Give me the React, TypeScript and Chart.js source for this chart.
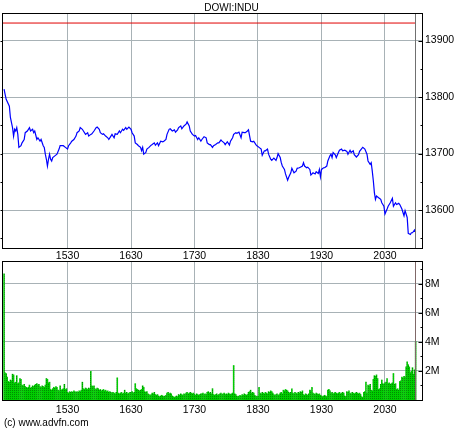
import React, { useEffect, useRef } from 'react';
import { Chart, registerables } from 'chart.js';

Chart.register(...registerables);

const TITLE = 'DOWI:INDU';
const COPYRIGHT = '(c) www.advfn.com';

// minutes after 14:30
const xTickMinutes = [60, 120, 180, 240, 300, 360];
const xTickLabels = ['1530', '1630', '1730', '1830', '1930', '2030'];

const priceTicks = [13600, 13700, 13800, 13900];
const priceTickLabels = ['13600', '13700', '13800', '13900'];
const priceMinorTicks = [13550, 13600, 13650, 13700, 13750, 13800, 13850, 13900];

const volumeTicks = [2, 4, 6, 8];
const volumeTickLabels = ['2M', '4M', '6M', '8M'];
const volumeMinorTicks = [1, 2, 3, 4, 5, 6, 7, 8, 9];

const previousClose = 13931;
const closeMarkerMinute = 388;

const priceMinutes = [
  0, 1, 2, 5, 6, 8, 9, 10, 11, 12, 13, 14, 16, 17, 19, 20, 22, 24, 25, 27, 28, 29, 31, 32, 34, 35, 37, 38, 39, 40,
  41, 42, 43, 44, 45, 46, 48, 50, 52, 53, 56, 58, 60, 61, 63, 64, 66, 68, 69, 71, 72, 74, 75, 77, 79, 80, 82, 83, 85, 87,
  88, 90, 91, 93, 94, 96, 98, 99, 101, 102, 104, 105, 107, 109, 110, 112, 113, 115, 116, 118, 120, 121, 123,
  124, 126, 127, 129, 130, 131, 132, 134, 135, 137, 139, 140, 142, 143, 145, 146, 148, 150, 151, 153, 154, 156, 157, 159, 161, 162,
  164, 165, 167, 168, 170, 172, 173, 175, 176, 178, 180, 181, 183, 184, 186, 187, 189, 191, 192, 194, 195, 197, 198, 200, 202, 203,
  205, 206, 208, 209, 211, 213, 214, 216, 217, 219, 220, 222, 224, 225, 227, 228, 230, 231, 233, 235, 236, 238, 239, 241, 243, 244,
  246, 247, 249, 250,
  252, 253, 255, 257, 258, 259, 261, 262, 263, 265, 266, 268, 269, 271, 272, 274, 276, 277, 279, 280, 282, 283, 284, 286, 287, 289,
  290, 292, 294, 295, 297, 298, 299, 300, 302, 303, 305, 306, 308, 309, 310, 311, 313, 314, 316, 317, 319, 320, 322, 324, 325, 327,
  328, 330, 331, 333, 335, 336, 338, 339, 341, 343, 344, 346, 347, 348, 349, 350, 351, 352, 354, 356, 357, 359, 360, 362, 363, 365,
  367, 368, 370, 371, 373, 374, 376, 378, 379, 381, 382, 384, 385, 386, 388, 389,
];

const priceValues = [
  13814, 13805, 13796, 13784, 13764, 13746, 13731, 13743, 13740, 13746, 13734, 13711, 13714, 13719, 13725, 13737, 13740, 13746, 13740, 13743, 13737, 13740, 13725, 13728, 13722, 13725, 13714, 13711, 13699, 13690,
  13678, 13690, 13699, 13690, 13687, 13693, 13696, 13699, 13708, 13714, 13714, 13711, 13708, 13714, 13719, 13722, 13725, 13731, 13737, 13740, 13746, 13743, 13740, 13734, 13737, 13731, 13734, 13735, 13740, 13746,
  13747, 13743, 13737, 13734, 13735, 13731, 13728, 13725, 13731, 13734, 13728, 13735, 13734, 13740, 13737, 13743, 13741, 13746, 13743, 13747, 13743, 13737, 13731,
  13719, 13716, 13714, 13711, 13705, 13711, 13699, 13702, 13708, 13711, 13715, 13716, 13719, 13715, 13719, 13714, 13722, 13721, 13722, 13725, 13734, 13743, 13744, 13740, 13742, 13738,
  13742, 13746, 13749, 13744, 13749, 13752, 13756, 13749, 13740, 13734, 13731, 13732, 13725, 13728, 13722, 13725, 13730, 13728, 13719, 13716, 13716, 13711, 13714, 13716, 13719, 13719,
  13724, 13722, 13719, 13716, 13721, 13715, 13722, 13728, 13734, 13737, 13736, 13738, 13728, 13738, 13737, 13737, 13740, 13742, 13722, 13721, 13722, 13716, 13714, 13711, 13708, 13697,
  13705, 13705, 13708, 13699,
  13690, 13688, 13692, 13688, 13693, 13700, 13693, 13684, 13678, 13672, 13664, 13653, 13658, 13666, 13674, 13666, 13669, 13674, 13675, 13676, 13678, 13684, 13678, 13675, 13676, 13672,
  13662, 13666, 13664, 13668, 13665, 13672, 13659, 13672, 13675, 13675, 13678, 13687, 13696, 13699, 13693, 13702, 13698, 13693, 13702, 13706, 13708, 13705, 13706, 13704, 13699, 13706,
  13702, 13705, 13698, 13694, 13698, 13704, 13709, 13711, 13708, 13699, 13687, 13681, 13684, 13669, 13652, 13631, 13619, 13625, 13622, 13619, 13613, 13607, 13593, 13602, 13607, 13613,
  13621, 13607, 13613, 13610, 13612, 13610, 13602, 13590, 13599, 13587, 13559, 13557, 13560, 13560, 13565, 13561,
];

// volume per minute (millions), index = minutes after 14:30
const volume = [
  8.7, 1.9, 1.85, 1.6, 1.3, 1.25, 1.4, 1.35, 1.8, 1.75,
  1.2, 1.25, 1.7, 1.15, 1.2, 1.5, 1.45, 1.05, 1.0, 1.1,
  0.95, 0.9, 0.85, 0.9, 1.05, 0.85, 0.9, 1.0, 0.95, 1.05,
  1.1, 1.15, 1.05, 1.1, 0.95, 0.9, 1.0, 0.95, 0.9, 1.05,
  1.5, 1.45, 1.2, 1.25, 0.75, 0.7, 0.8, 0.9, 0.85, 0.95,
  0.9, 0.7, 0.65, 1.0, 0.7, 0.75, 0.8, 1.1, 0.75, 0.8,
  0.55, 0.5, 0.6, 0.55, 0.6, 0.55, 0.65, 0.6, 0.55, 0.6,
  0.55, 0.65, 0.6, 0.7, 1.25, 0.8, 0.75, 0.85, 0.8, 0.75,
  0.85, 0.8, 2.0, 1.0, 0.95, 1.0, 0.8, 0.75, 0.85, 0.8,
  0.7, 0.75, 0.65, 0.7, 0.75, 0.65, 0.7, 0.6, 0.65, 0.55,
  0.6, 0.55, 0.5, 0.55, 0.5, 0.45, 0.55, 1.55, 0.5, 0.45,
  0.5, 0.55, 0.45, 0.5, 0.7, 0.5, 0.55, 0.45, 0.5, 0.55,
  0.55, 0.6, 0.5, 0.55, 1.15, 0.8, 0.75, 0.7, 0.65, 0.7,
  0.75, 1.0, 0.9, 0.6, 0.55, 0.6, 0.45, 0.4, 0.35, 0.4,
  0.5, 0.45, 0.55, 0.4, 0.35, 0.4, 0.3, 0.25, 0.3, 0.35,
  0.3, 0.25, 0.3, 0.35, 0.5, 0.55, 0.45, 0.5, 0.45, 0.3,
  0.25, 0.2, 0.25, 0.3, 0.25, 0.4, 0.35, 0.45, 0.4, 0.35,
  0.45, 0.4, 0.5, 0.55, 0.45, 0.5, 0.55, 0.5, 0.45, 0.5,
  0.4, 0.35, 0.45, 0.4, 0.35, 0.4, 0.45, 0.45, 0.5, 0.4,
  0.45, 0.4, 0.55, 0.6, 0.5, 0.55, 0.45, 0.8, 0.4, 0.35,
  0.4, 0.45, 0.35, 0.4, 0.45, 0.5, 0.4, 0.45, 0.5, 0.4,
  0.45, 0.4, 0.5, 0.45, 0.4, 0.45, 0.5, 2.4, 0.45, 0.4,
  0.3, 0.25, 0.3, 0.35, 0.3, 0.4, 0.35, 0.45, 0.4, 0.35,
  0.4, 0.55, 0.6, 0.7, 0.5, 0.55, 0.5, 0.35, 0.3, 0.25,
  0.3, 0.9, 0.5, 0.45, 0.55, 0.5, 0.45, 0.55, 0.5, 0.45,
  0.6, 0.55, 0.65, 0.6, 0.5, 0.4, 0.35, 0.4, 0.45, 0.35,
  0.4, 0.5, 0.55, 0.45, 0.7, 0.65, 0.75, 0.7, 0.65, 0.55,
  0.5, 0.55, 0.8, 0.5, 0.45, 0.55, 0.5, 0.45, 0.55, 0.5,
  0.6, 0.55, 0.65, 0.4, 0.35, 0.45, 0.4, 0.35, 0.45, 0.7,
  0.65, 0.9, 0.5, 0.45, 0.4, 0.5, 0.45, 0.4, 0.45, 0.35,
  0.3, 0.25, 0.3, 0.35, 0.3, 0.25, 0.7, 0.75, 0.65, 0.5,
  0.55, 0.45, 0.5, 0.55, 0.5, 0.45, 0.5, 0.55, 0.45, 0.5,
  0.55, 0.5, 0.3, 0.25, 0.6, 0.55, 0.65, 0.5, 0.45, 0.55,
  0.5, 0.45, 0.5, 0.55, 0.5, 0.45, 0.5, 0.4, 0.25, 0.2,
  0.55, 0.6, 1.25, 0.5, 1.05, 1.0, 1.1, 0.7, 0.65, 1.45,
  1.7, 1.65, 1.75, 1.5, 0.75, 0.8, 1.1, 1.4, 1.15, 1.1,
  1.2, 1.25, 1.5, 1.15, 1.2, 1.1, 1.15, 1.2, 1.85, 1.1,
  1.15, 0.75, 0.8, 0.7, 1.3, 1.35, 1.6, 1.55, 1.65, 1.6,
  2.3, 2.65, 2.45, 2.3, 1.9, 2.0, 2.25, 1.8, 2.1, 4.05,
];

const X_MIN = -1;
const X_MAX = 395;
const GRID = '#a8b2b6';
const TICK_FONT = { family: "'Liberation Sans Narrow', 'Liberation Sans', Arial, sans-serif", size: 10.5 };
const TEXT_FONT = "'Liberation Sans', Arial, sans-serif";

const framePlugin = {
  id: 'frame',
  afterDatasetsDraw(chart: any, _args: any, opts: any) {
    const { ctx, chartArea: a } = chart;
    const xs = chart.scales.x;
    ctx.save();
    const mx = Math.round(xs.getPixelForValue(opts.marker)) + 0.5;
    ctx.strokeStyle = opts.markerColor;
    ctx.lineWidth = 1;
    ctx.beginPath();
    ctx.moveTo(mx, a.top);
    ctx.lineTo(mx, a.bottom);
    ctx.stroke();
    ctx.restore();
  },
  afterDraw(chart: any, _args: any, opts: any) {
    const { ctx, chartArea: a } = chart;
    const ys = chart.scales.y;
    ctx.save();
    ctx.strokeStyle = '#000';
    ctx.lineWidth = 1;
    const l = Math.round(a.left) - 0.5;
    const r = Math.round(a.right) + 0.5;
    const t = Math.round(a.top) - 0.5;
    const b = Math.round(a.bottom) + 0.5;
    ctx.strokeRect(l, t, r - l, b - t);
    ctx.beginPath();
    for (const v of opts.minor) {
      const y = Math.round(ys.getPixelForValue(v)) + 0.5;
      const len = opts.major.includes(v) ? 4 : 2;
      ctx.moveTo(r, y);
      ctx.lineTo(r - len, y);
      if (opts.leftTicks) {
        ctx.moveTo(l, y);
        ctx.lineTo(l - 2, y);
      }
    }
    ctx.stroke();
    ctx.restore();
  },
};

function xScale(labelPadding: number, height: number) {
  return {
    type: 'linear',
    min: X_MIN,
    max: X_MAX,
    offset: false,
    grid: { color: GRID, drawTicks: false, offset: false },
    border: { display: false },
    ticks: {
      padding: labelPadding,
      font: TICK_FONT,
      color: '#000',
      maxRotation: 0,
      autoSkip: false,
      callback: (v: number) => {
        const i = xTickMinutes.indexOf(v);
        return i >= 0 ? xTickLabels[i] : '';
      },
    },
    afterBuildTicks: (s: any) => {
      s.ticks = xTickMinutes.map((v) => ({ value: v }));
    },
    afterFit: (s: any) => {
      s.height = height;
      s.paddingLeft = 0;
      s.paddingRight = 0;
    },
  };
}

function yScale(min: number, max: number, ticks: number[], labels: string[]) {
  return {
    type: 'linear',
    position: 'right',
    min,
    max,
    grid: { color: GRID, drawTicks: false },
    border: { display: false },
    ticks: {
      padding: 3,
      font: TICK_FONT,
      color: '#000',
      autoSkip: false,
      callback: (v: number) => {
        const i = ticks.indexOf(v);
        return i >= 0 ? labels[i] : '';
      },
    },
    afterBuildTicks: (s: any) => {
      s.ticks = ticks.map((v) => ({ value: v }));
    },
    afterFit: (s: any) => {
      s.width = 38;
      s.paddingTop = 0;
      s.paddingBottom = 0;
    },
  };
}

export default function App() {
  const priceRef = useRef<HTMLCanvasElement>(null);
  const volRef = useRef<HTMLCanvasElement>(null);

  useEffect(() => {
    const priceData = priceMinutes.map((m, i) => ({ x: m, y: priceValues[i] }));
    const closeData = [
      { x: X_MIN, y: previousClose },
      { x: closeMarkerMinute + 1, y: previousClose },
    ];

    const c1 = new Chart(priceRef.current as HTMLCanvasElement, {
      type: 'line',
      data: {
        datasets: [
          { data: closeData, borderColor: '#e00000', borderWidth: 1, pointRadius: 0, tension: 0 },
          { data: priceData, borderColor: '#0000ff', borderWidth: 1.2, pointRadius: 0, tension: 0 },
        ],
      },
      options: {
        responsive: false,
        animation: false,
        devicePixelRatio: 1,
        layout: { padding: { left: 3, right: 0, top: 0, bottom: 0 } },
        scales: {
          x: xScale(2, 14) as any,
          y: yScale(13533, 13947, priceTicks, priceTickLabels) as any,
        },
        plugins: {
          legend: { display: false },
          tooltip: { enabled: false },
          title: {
            display: true,
            text: TITLE,
            color: '#000',
            font: { family: TEXT_FONT, size: 10, weight: 'normal', lineHeight: 1.2 },
            padding: { top: 2, bottom: 0 },
          },
          frame: {
            marker: closeMarkerMinute,
            markerColor: '#707070',
            minor: priceMinorTicks,
            major: priceTicks,
            leftTicks: true,
          },
        } as any,
      },
      plugins: [framePlugin],
    });

    const pc = document.createElement('canvas');
    pc.width = 2;
    pc.height = 2;
    const pctx = pc.getContext('2d') as CanvasRenderingContext2D;
    pctx.fillStyle = '#00cc00';
    pctx.fillRect(0, 0, 2, 2);
    pctx.fillStyle = '#008c00';
    pctx.fillRect(0, 0, 1, 1);
    const vctx = (volRef.current as HTMLCanvasElement).getContext('2d') as CanvasRenderingContext2D;
    const pattern = vctx.createPattern(pc, 'repeat');

    const volData = volume.map((v, i) => ({ x: i, y: v }));
    const c2 = new Chart(volRef.current as HTMLCanvasElement, {
      type: 'bar',
      data: {
        datasets: [
          {
            data: volData,
            backgroundColor: pattern as any,
            borderWidth: 0,
            barPercentage: 1.5,
            categoryPercentage: 1,
          },
        ],
      },
      options: {
        responsive: false,
        animation: false,
        devicePixelRatio: 1,
        layout: { padding: { left: 3, right: 0, top: 4, bottom: 0 } },
        scales: {
          x: xScale(3.5, 30) as any,
          y: yScale(0, 9.5, volumeTicks, volumeTickLabels) as any,
        },
        plugins: {
          legend: { display: false },
          tooltip: { enabled: false },
          frame: {
            marker: closeMarkerMinute,
            markerColor: '#806868',
            minor: volumeMinorTicks,
            major: volumeTicks,
            leftTicks: false,
          },
        } as any,
      },
      plugins: [framePlugin],
    });

    return () => {
      c1.destroy();
      c2.destroy();
    };
  }, []);

  return (
    <div style={{ position: 'absolute', left: 0, top: 0, width: 460, height: 430, background: '#fff' }}>
      <canvas
        ref={priceRef}
        width={460}
        height={262}
        style={{ position: 'absolute', left: 0, top: 0, width: 460, height: 262 }}
      />
      <canvas
        ref={volRef}
        width={460}
        height={172}
        style={{ position: 'absolute', left: 0, top: 258, width: 460, height: 172 }}
      />
      <div
        style={{
          position: 'absolute',
          left: 4,
          top: 416,
          font: `10px ${TEXT_FONT}`,
          lineHeight: '13px',
          color: '#000',
          whiteSpace: 'nowrap',
        }}
      >
        {COPYRIGHT}
      </div>
    </div>
  );
}
